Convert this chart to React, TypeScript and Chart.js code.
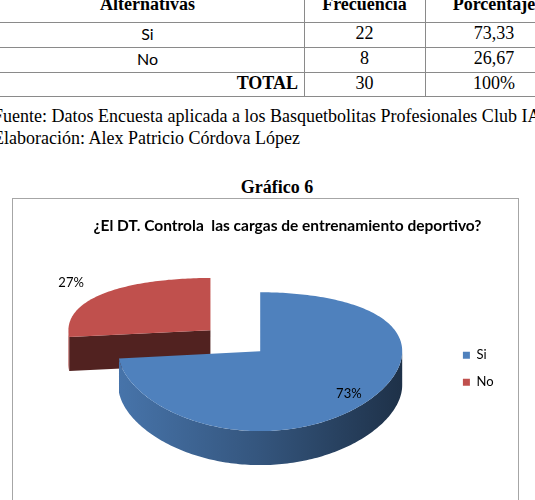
import React, { useEffect, useRef } from "react";
import { Chart, registerables } from "chart.js";

Chart.register(...registerables);

// ---- data ----
const tableHeader = ["Alternativas", "Frecuencia", "Porcentaje"];
const categories = ["Si", "No"];
const frecuencia = [22, 8];
const porcentaje = ["73,33", "26,67"];
const totalRow = ["TOTAL", "30", "100%"];
const sliceColors = ["#4f81bd", "#c0504d"];
const explode = [0, 67];
const chartTitle = "¿El DT. Controla  las cargas de entrenamiento deportivo?";
const fuente = "Fuente: Datos Encuesta aplicada a los Basquetbolitas Profesionales Club IA";
const elaboracion = "Elaboración: Alex Patricio Córdova López";
const graficoLabel = "Gráfico 6";

const SERIF = "'Liberation Serif', 'Times New Roman', serif";
const SANS = "Lato, 'Open Sans', sans-serif";

function shade(hex: string, f: number) {
  const n = parseInt(hex.slice(1), 16);
  const r = Math.round(((n >> 16) & 255) * f);
  const g = Math.round(((n >> 8) & 255) * f);
  const b = Math.round((n & 255) * f);
  return `rgb(${r},${g},${b})`;
}

// 3D pie renderer: uses the arcs laid out by Chart.js (center, radius, angles, offset)
const pie3d = {
  id: "pie3d",
  beforeDatasetDraw(chart: any, args: any, opts: any) {
    const ctx: CanvasRenderingContext2D = chart.ctx;
    const meta = args.meta;
    const ds = chart.data.datasets[args.index];
    const values = ds.data as number[];
    const total = values.reduce((a, b) => a + b, 0);
    const { tilt: k, depth, lift, persp: p } = opts;
    if (!meta.data.length) return false;
    const a0p = meta.data[0].getProps(["x", "y", "outerRadius"], true);
    const CX = a0p.x;
    const CY = a0p.y - lift;
    const R = a0p.outerRadius;
    // disk coords (X right, Y toward viewer) -> screen
    const proj = (X: number, Y: number, dz = 0): [number, number] => [CX + X, CY + k * (Y + (p * Y * Y) / R) + dz];

    const slices = meta.data.map((arc: any, i: number) => {
      const pr = arc.getProps(["startAngle", "endAngle", "outerRadius"], true);
      const mid = (pr.startAngle + pr.endAngle) / 2;
      const off = (arc.options && arc.options.offset) || 0;
      return {
        i,
        a0: pr.startAngle,
        a1: pr.endAngle,
        mid,
        r: pr.outerRadius,
        ox: Math.cos(mid) * off,
        oy: Math.sin(mid) * off,
        color: arc.options.backgroundColor as string,
        frac: values[i] / total,
      };
    });

    const order = [...slices].sort((a, b) => a.oy + Math.sin(a.mid) * 10 - (b.oy + Math.sin(b.mid) * 10));
    ctx.save();
    for (const s of order) {
      const { ox, oy, r, a0, a1, color } = s;
      const rim = (t: number, dz = 0) => proj(ox + r * Math.cos(t), oy + r * Math.sin(t), dz);
      const sample = (from: number, to: number) => {
        const n = Math.max(8, Math.ceil(Math.abs(to - from) / 0.02));
        const pts: number[] = [];
        for (let j = 0; j <= n; j++) pts.push(from + ((to - from) * j) / n);
        return pts;
      };

      const radial = (t: number) => {
        const c = proj(ox, oy);
        const e = rim(t);
        ctx.beginPath();
        ctx.moveTo(c[0], c[1]);
        ctx.lineTo(e[0], e[1]);
        ctx.lineTo(e[0], e[1] + depth);
        ctx.lineTo(c[0], c[1] + depth);
        ctx.closePath();
        ctx.fillStyle = shade(color, 0.42);
        ctx.fill();
      };
      if (Math.cos(a0) < -0.01) radial(a0);
      if (Math.cos(a1) > 0.01) radial(a1);

      for (const base of [-2 * Math.PI, 0, 2 * Math.PI]) {
        const s0 = Math.max(a0, base);
        const e0 = Math.min(a1, base + Math.PI);
        if (e0 - s0 <= 0.001) continue;
        const left = CX + ox - r;
        const g = ctx.createLinearGradient(left, 0, left + 2 * r, 0);
        g.addColorStop(0, shade(color, 0.9));
        g.addColorStop(0.5, shade(color, 0.66));
        g.addColorStop(1, shade(color, 0.38));
        ctx.beginPath();
        const top = sample(s0, e0);
        top.forEach((t, j) => {
          const q = rim(t);
          if (j === 0) ctx.moveTo(q[0], q[1]);
          else ctx.lineTo(q[0], q[1]);
        });
        [...top].reverse().forEach((t) => {
          const q = rim(t, depth);
          ctx.lineTo(q[0], q[1]);
        });
        ctx.closePath();
        ctx.fillStyle = g;
        ctx.fill();
      }

      const c = proj(ox, oy);
      ctx.beginPath();
      ctx.moveTo(c[0], c[1]);
      sample(a0, a1).forEach((t) => {
        const q = rim(t);
        ctx.lineTo(q[0], q[1]);
      });
      ctx.closePath();
      ctx.fillStyle = color;
      ctx.fill();
    }

    ctx.fillStyle = "#000";
    ctx.font = `13px ${SANS}`;
    ctx.textAlign = "center";
    ctx.textBaseline = "middle";
    for (const s of slices) {
      const f = s.frac >= 0.5 ? 0.84 : 1.32;
      const q = proj(s.ox + f * s.r * Math.cos(s.mid), s.oy + f * s.r * Math.sin(s.mid));
      ctx.fillText(Math.round(s.frac * 100) + "%", q[0], q[1]);
    }
    ctx.restore();
    return false;
  },
};

function PieChart() {
  const ref = useRef<HTMLCanvasElement>(null);
  useEffect(() => {
    if (!ref.current) return;
    const chart = new Chart(ref.current, {
      type: "pie",
      data: {
        labels: categories,
        datasets: [
          {
            data: frecuencia,
            backgroundColor: sliceColors,
            borderWidth: 0,
            offset: explode,
          } as any,
        ],
      },
      options: {
        responsive: false,
        animation: false,
        events: [],
        radius: 142,
        layout: { padding: { left: 58.5, right: 14.5, top: 0, bottom: 0 } },
        plugins: {
          title: {
            display: true,
            text: chartTitle,
            color: "#000",
            font: { family: SANS, size: 15.5, weight: "bold" },
            padding: { top: 17.7, bottom: 3.1 },
          },
          legend: {
            display: true,
            position: "right",
            fullSize: false,
            labels: {
              boxWidth: 7,
              boxHeight: 7,
              padding: 14,
              color: "#000",
              font: { family: SANS, size: 13 },
            },
          },
          tooltip: { enabled: false },
          pie3d: { tilt: 0.489, persp: 0.151, depth: 34, lift: 17.5 },
        } as any,
      } as any,
      plugins: [pie3d as any],
    });
    return () => chart.destroy();
  }, []);
  return <canvas ref={ref} width={505} height={300} style={{ display: "block", width: 505, height: 300 }} />;
}

function SerifLine(props: { x: number; baseline: number; text: string; bold?: boolean; align?: "left" | "center"; w?: number }) {
  const { x, baseline, text, bold, align = "left", w = 700 } = props;
  const style: React.CSSProperties = {
    position: "absolute",
    top: baseline - 17.1,
    left: align === "center" ? x - w / 2 : x,
    width: align === "center" ? w : undefined,
    textAlign: align,
    fontFamily: SERIF,
    fontSize: 18,
    lineHeight: "22px",
    fontWeight: bold ? "bold" : "normal",
    whiteSpace: "nowrap",
    color: "#000",
  };
  return <div style={style}>{text}</div>;
}

export default function App() {
  const rowLines = [22, 47, 72, 96];
  const colX = [-9, 304, 425, 563];
  const cell = (
    key: string,
    text: string,
    c: number,
    top: number,
    h: number,
    opts: { bold?: boolean; sans?: boolean; right?: boolean } = {}
  ) => (
    <div
      key={key}
      style={{
        position: "absolute",
        left: colX[c],
        width: colX[c + 1] - colX[c] - (opts.right ? 6 : 0),
        top,
        height: h,
        lineHeight: h + "px",
        textAlign: opts.right ? "right" : "center",
        fontFamily: opts.sans ? SANS : SERIF,
        fontSize: opts.sans ? 16 : 18,
        fontWeight: opts.bold ? "bold" : "normal",
        whiteSpace: "nowrap",
        color: "#000",
      }}
    >
      {text}
    </div>
  );
  const rowTop = (r: number) => rowLines[r] - 1;
  const rowH = (r: number) => rowLines[r + 1] - rowLines[r];

  return (
    <div style={{ position: "absolute", left: 0, top: 0, width: 535, height: 500, overflow: "hidden", background: "#fff" }}>
      {rowLines.map((y, i) => (
        <div key={"h" + i} style={{ position: "absolute", left: 0, top: y, width: 535, height: 1, background: "#8a8a8a" }} />
      ))}
      {[304, 425].map((x, i) => (
        <div key={"v" + i} style={{ position: "absolute", left: x, top: 0, width: 1, height: 97, background: "#8a8a8a" }} />
      ))}
      {tableHeader.map((t, c) => cell("hd" + c, t, c, -13, 35, { bold: true }))}
      {categories.map((cat, r) => [
        cell("c" + r, cat, 0, rowTop(r), rowH(r), { sans: true }),
        cell("f" + r, String(frecuencia[r]), 1, rowTop(r), rowH(r)),
        cell("p" + r, porcentaje[r], 2, rowTop(r), rowH(r)),
      ])}
      {cell("t0", totalRow[0], 0, rowTop(2), rowH(2), { bold: true, right: true })}
      {cell("t1", totalRow[1], 1, rowTop(2), rowH(2))}
      {cell("t2", totalRow[2], 2, rowTop(2), rowH(2))}

      <SerifLine x={-7} baseline={122} text={fuente} />
      <SerifLine x={-7} baseline={144} text={elaboracion} />
      <SerifLine x={277} baseline={193} text={graficoLabel} bold align="center" w={300} />

      <div style={{ position: "absolute", left: 12, top: 198, width: 505, height: 320, border: "1px solid #a6a6a6", background: "#fff" }}>
        <PieChart />
      </div>
    </div>
  );
}
